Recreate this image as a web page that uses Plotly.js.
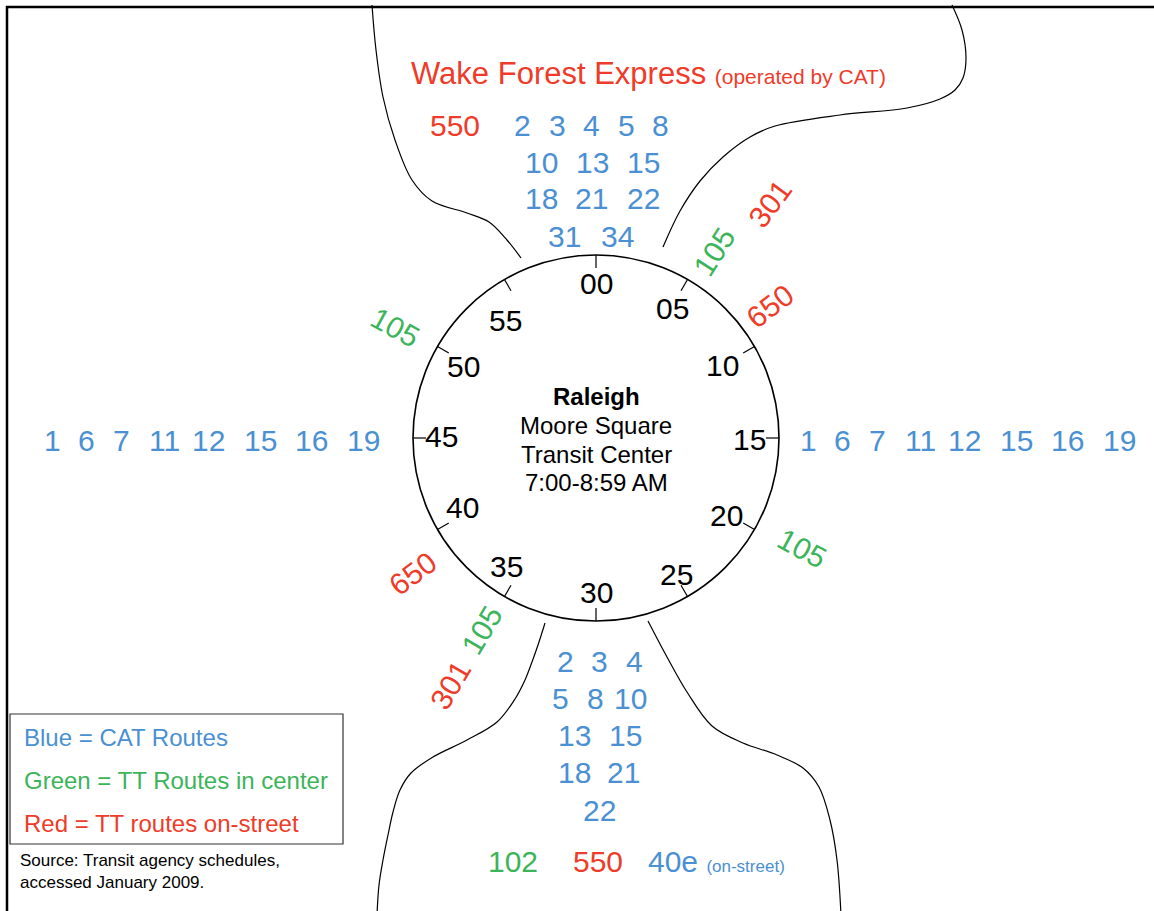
<!DOCTYPE html>
<html>
<head>
<meta charset="utf-8">
<script src="https://cdn.plot.ly/plotly-3.0.1.min.js"></script>
<style>html,body{margin:0;padding:0;background:#fff;}#chart{width:1154px;height:911px;}</style>
</head>
<body>
<div id="chart"></div>
<script>
// ---------- DATA ----------
const minuteTicks = [0, 5, 10, 15, 20, 25, 30, 35, 40, 45, 50, 55];
const minuteLabels = ['00', '05', '10', '15', '20', '25', '30', '35', '40', '45', '50', '55'];
const centerLines = ['Raleigh', 'Moore Square', 'Transit Center', '7:00-8:59 AM'];
const title = 'Wake Forest Express';
const titleNote = '(operated by CAT)';
const sideRoutes = ['1', '6', '7', '11', '12', '15', '16', '19'];
const topExpress = '550';
const topRouteRows = [['2', '3', '4', '5', '8'], ['10', '13', '15'], ['18', '21', '22'], ['31', '34']];
const bottomRouteRows = [['2', '3', '4'], ['5', '8', '10'], ['13', '15'], ['18', '21'], ['22']];
const bottomExtra = ['102', '550', '40e'];
const bottomExtraType = ['green', 'red', 'blue'];
const bottomNote = '(on-street)';
const ringLabels = ['105', '301', '650', '105', '650', '105', '301', '105'];
const ringType = ['green', 'red', 'red', 'green', 'red', 'green', 'red', 'green'];
const ringMinutes = [5.4, 6.1, 8.8, 19.7, 38.9, 35.1, 35.1, 49.8];
const legendLines = ['Blue = CAT Routes', 'Green = TT Routes in center', 'Red = TT routes on-street'];
const legendType = ['blue', 'green', 'red'];
const sourceLines = ['Source: Transit agency schedules,', 'accessed January 2009.'];

// ---------- STYLE / LAYOUT POSITIONS ----------
const COLORS = {blue: '#4a90d2', green: '#3cb45a', red: '#ef3b29', black: '#000000'};
const FONT = 'Liberation Sans, Arial, Helvetica, sans-serif';
const W = 1154, H = 911;
const CX = 596, CY = 438, R = 183;
const TICK_LEN = 13;
// hand-placed clock label nudges (radius px, angle deg)
const labelRadius = [155, 150, 146, 154, 152, 158, 154, 157, 150, 155, 151, 148];
const labelNudge  = [0, 0.5, 0.4, 0.7, 0.8, -0.5, 0, 4.9, 2.6, 0.7, -1.6, -7.6];
const ringRadius = [221, 292, 218, 234, 228, 223, 287, 229];
const sideX = [808, 842, 877, 920, 964, 1016, 1067, 1119];
const sideLeftShift = -756;
const sideY = 440;
const topRowY = [125, 162, 198, 236];
const topRowX = [[522, 557, 591, 626, 660], [541, 592, 643], [541, 591, 643], [564, 617]];
const bottomRowY = [661, 698, 735, 772, 810];
const bottomRowX = [[565, 599, 634], [560, 595, 630], [574, 625], [574, 623], [599]];
const bottomExtraX = [513, 598, 716];
const bottomExtraY = 861;
const centerY = [396, 425, 454, 482];

// road outline decoration paths
const roads = [
  [[372,5],[376,50],[383,97],[395,140],[412,180],[432,201],[467,213],[489,222],[507,240],[521,258]],
  [[952,5],[962,30],[966,58],[963,78],[955,90],[940,99],[907,108],[840,115],[775,126],[750,137],[723,157],[700,181],[680,211],[663,247]],
  [[545,623],[538,645],[532,662],[525,680],[515,699],[497,722],[467,740],[433,757],[411,773],[400,790],[393,812],[388,835],[383,860],[379,885],[377,915]],
  [[648,621],[667,657],[687,692],[712,726],[743,743],[777,755],[803,768],[819,787],[830,820],[837,860],[841,915]]
];

function polarDeg(deg, r) {
  const t = deg / 180 * Math.PI;
  return [CX + r * Math.sin(t), CY - r * Math.cos(t)];
}
function polar(minute, r) { return polarDeg(minute / 60 * 360, r); }
function radialAngle(minute) {
  const deg = minute / 60 * 360;
  return deg < 180 ? deg - 90 : deg - 270;
}

const traces = roads.map(pts => ({
  type: 'scatter', mode: 'lines',
  x: pts.map(p => p[0]), y: pts.map(p => p[1]),
  line: {color: '#000', width: 1.2, shape: 'spline', smoothing: 1},
  hoverinfo: 'skip', showlegend: false
}));

const shapes = [];
shapes.push({type: 'rect', xref: 'x', yref: 'y', x0: 7, y0: 7, x1: W + 20, y1: H + 20,
  line: {color: '#000', width: 2.5}});
shapes.push({type: 'circle', xref: 'x', yref: 'y', x0: CX - R, x1: CX + R, y0: CY - R, y1: CY + R,
  line: {color: '#000', width: 1.6}});
minuteTicks.forEach(m => {
  const a = polar(m, R), b = polar(m, R - TICK_LEN);
  shapes.push({type: 'line', xref: 'x', yref: 'y', x0: a[0], y0: a[1], x1: b[0], y1: b[1],
    line: {color: '#000', width: 1.2}});
});
shapes.push({type: 'rect', xref: 'x', yref: 'y', x0: 10, y0: 714, x1: 343, y1: 844,
  line: {color: '#333', width: 1.2}});

const ann = [];
function txt(x, y, text, size, color, extra) {
  ann.push(Object.assign({x: x, y: y, xref: 'x', yref: 'y', text: text, showarrow: false,
    font: {family: FONT, size: size, color: color}, xanchor: 'center', yanchor: 'middle'}, extra || {}));
}

minuteTicks.forEach((m, i) => {
  const p = polarDeg(m / 60 * 360 + labelNudge[i], labelRadius[i]);
  txt(p[0], p[1], minuteLabels[i], 30, COLORS.black);
});
centerLines.forEach((s, i) => txt(CX, centerY[i], i === 0 ? '<b>' + s + '</b>' : s, 24, COLORS.black));
txt(648, 73, title + ' <span style="font-size:21px">' + titleNote + '</span>', 31, COLORS.red);
txt(455, topRowY[0], topExpress, 30, COLORS.red);
topRouteRows.forEach((row, r) => row.forEach((s, i) => txt(topRowX[r][i], topRowY[r], s, 30, COLORS.blue)));
bottomRouteRows.forEach((row, r) => row.forEach((s, i) => txt(bottomRowX[r][i], bottomRowY[r], s, 30, COLORS.blue)));
bottomExtra.forEach((s, i) => {
  const t = i === 2 ? s + ' <span style="font-size:17px">' + bottomNote + '</span>' : s;
  txt(bottomExtraX[i], bottomExtraY, t, 30, COLORS[bottomExtraType[i]]);
});
sideRoutes.forEach((s, i) => {
  txt(sideX[i], sideY, s, 30, COLORS.blue);
  txt(sideX[i] + sideLeftShift, sideY, s, 30, COLORS.blue);
});
ringLabels.forEach((s, i) => {
  const p = polar(ringMinutes[i], ringRadius[i]);
  txt(p[0], p[1], s, 30, COLORS[ringType[i]], {textangle: radialAngle(ringMinutes[i])});
});
legendLines.forEach((s, i) => txt(22, 737 + i * 43, s, 24, COLORS[legendType[i]], {xanchor: 'left'}));
txt(18, 871, sourceLines.join('<br>'), 17, COLORS.black, {xanchor: 'left', align: 'left'});

const layout = {
  width: W, height: H,
  margin: {l: 0, r: 0, t: 0, b: 0, pad: 0},
  paper_bgcolor: '#fff', plot_bgcolor: '#fff',
  xaxis: {range: [0, W], visible: false, fixedrange: true},
  yaxis: {range: [H, 0], visible: false, fixedrange: true},
  showlegend: false,
  shapes: shapes,
  annotations: ann
};
Plotly.newPlot('chart', traces, layout, {staticPlot: true, displayModeBar: false});
</script>
</body>
</html>
